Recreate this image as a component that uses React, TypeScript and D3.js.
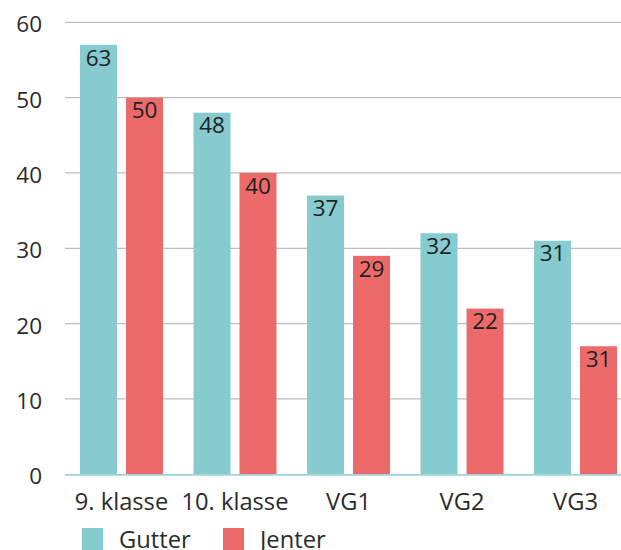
import React from 'react';
import * as d3 from 'd3';

const categories = ['9. klasse', '10. klasse', 'VG1', 'VG2', 'VG3'];
const series = ['Gutter', 'Jenter'];
// bar heights as drawn
const gutterValues = [57, 48, 37, 32, 31];
const jenterValues = [50, 40, 29, 22, 17];
// numbers printed on the bars (they differ from the heights in two places)
const gutterLabels = ['63', '48', '37', '32', '31'];
const jenterLabels = ['50', '40', '29', '22', '31'];
const yTicks = [0, 10, 20, 30, 40, 50, 60];
const colors = ['#85cbcf', '#ec6b6a'];

const width = 621;
const height = 550;
const font = '"Open Sans", "Noto Sans", sans-serif';

const App: React.FC = () => {
  const y = d3.scaleLinear().domain([0, 60]).range([474.3, 22.3]);

  const x0 = d3.scaleBand<string>()
    .domain(categories)
    .range([64.75, 632.25])
    .paddingInner(0)
    .paddingOuter(0);

  const x1 = d3.scaleBand<string>()
    .domain(series)
    .range([15.25, x0.bandwidth() - 15.25])
    .paddingInner(0.196);

  const valueSets = [gutterValues, jenterValues];
  const labelSets = [gutterLabels, jenterLabels];

  return (
    <svg
      width={width}
      height={height}
      style={{ position: 'absolute', left: 0, top: 0, fontFamily: font }}
    >
      {/* grid + y ticks */}
      {yTicks.map(t => (
        <g key={t}>
          {t > 0 && (
            <line x1={65} x2={width} y1={y(t)} y2={y(t)} stroke="#bdbdbd" strokeWidth={1.3} />
          )}
          <text x={42} y={y(t)} dy="0.45em" textAnchor="end" fontSize={22.5} fill="#2b2b2b">
            {t}
          </text>
        </g>
      ))}

      {/* bars */}
      {categories.map((c, i) => (
        <g key={c} transform={`translate(${x0(c)},0)`}>
          {series.map((s, j) => {
            const v = valueSets[j][i];
            const bx = x1(s) || 0;
            return (
              <g key={s}>
                <rect
                  x={bx}
                  y={y(v)}
                  width={x1.bandwidth()}
                  height={y(0) - y(v)}
                  fill={colors[j]}
                />
                <text
                  x={bx + x1.bandwidth() / 2}
                  y={y(v) + 20.7}
                  textAnchor="middle"
                  fontSize={22.5}
                  fill="#222"
                >
                  {labelSets[j][i]}
                </text>
              </g>
            );
          })}
        </g>
      ))}

      {/* baseline */}
      <line x1={65} x2={width} y1={y(0) + 0.6} y2={y(0) + 0.6} stroke="#9fd4d7" strokeWidth={1.6} />

      {/* x labels */}
      {categories.map(c => (
        <text
          key={c}
          x={(x0(c) || 0) + x0.bandwidth() / 2}
          y={510}
          textAnchor="middle"
          fontSize={23.7}
          fill="#2b2b2b"
        >
          {c}
        </text>
      ))}

      {/* legend */}
      {series.map((s, j) => {
        const lx = j === 0 ? 82 : 223;
        return (
          <g key={s}>
            <rect x={lx} y={528} width={21} height={22} fill={colors[j]} />
            <text x={lx + 37} y={548} fontSize={23.7} fill="#2b2b2b">
              {s}
            </text>
          </g>
        );
      })}
    </svg>
  );
};

export default App;
